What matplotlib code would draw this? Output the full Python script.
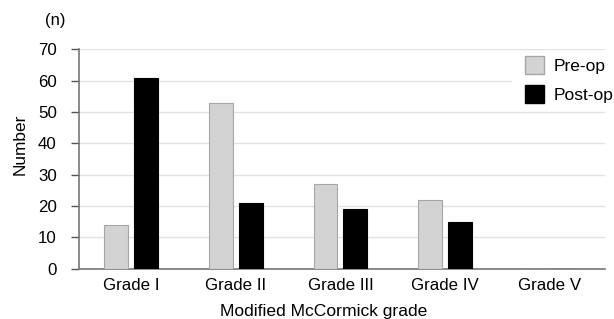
import matplotlib
matplotlib.use("Agg")
import matplotlib.pyplot as plt
import matplotlib.patches as mpatches
import numpy as np

plt.rcParams['font.family'] = ['Liberation Sans', 'DejaVu Sans']

categories = ["Grade I", "Grade II", "Grade III", "Grade IV", "Grade V"]
pre_op = [14, 53, 27, 22, 0]
post_op = [61, 21, 19, 15, 0]
yticks = [0, 10, 20, 30, 40, 50, 60, 70]

W, H = 614, 319
fig = plt.figure(figsize=(W / 100, H / 100), dpi=100)
ax = fig.add_axes([79 / W, 1 - 268.7 / H, (605 - 79) / W, (268.7 - 49.3) / H])

x = np.arange(len(categories))
bw = 0.229
off = 0.143
pre_color = "#d3d3d3"
post_color = "#000000"
ax.bar(x - off, pre_op, bw, color=pre_color, edgecolor="#a6a6a6", linewidth=0.8, zorder=3)
ax.bar(x + off, post_op, bw, color=post_color, edgecolor="#000000", linewidth=0.8, zorder=3)

ax.set_xlim(-0.5, 4.53)
ax.set_ylim(0, 70)
ax.set_yticks(yticks)
ax.set_yticklabels([str(t) for t in yticks], fontsize=12.2)
ax.set_xticks(x)
ax.set_xticklabels(categories, fontsize=12.2)
ax.tick_params(axis='x', length=0, pad=7)
ax.tick_params(axis='y', length=6, width=1, color="#555555", pad=10)
ax.yaxis.grid(True, color="#e3e3e3", linewidth=1, zorder=0)
ax.set_axisbelow(True)
for s in ["top", "right"]:
    ax.spines[s].set_visible(False)
ax.spines["left"].set_color("#777777")
ax.spines["bottom"].set_color("#777777")
ax.spines["left"].set_linewidth(1.2)
ax.spines["bottom"].set_linewidth(1.2)

fig.text(323.5 / W, 1 - 316 / H, "Modified McCormick grade", fontsize=12.6,
         ha="center", va="baseline")
fig.text(20.5 / W, 1 - 144 / H, "Number", fontsize=12.4, rotation=90,
         ha="center", va="center")
fig.text(55 / W, 1 - 21 / H, "(n)", fontsize=12, ha="center", va="center")

# white backing behind legend (hides part of the 60 gridline)
ax.add_patch(mpatches.Rectangle((512 / W, 1 - 100 / H), (W - 512) / W, 38 / H,
                                transform=fig.transFigure, facecolor="white",
                                edgecolor="none", zorder=1, clip_on=False))

handles = [mpatches.Patch(facecolor=pre_color, edgecolor="#a6a6a6", label="Pre-op"),
           mpatches.Patch(facecolor=post_color, edgecolor="#000000", label="Post-op")]
leg = fig.legend(handles=handles, loc="upper left", bbox_to_anchor=(525 / W, 1 - 56 / H),
                 frameon=False, fontsize=12.5, handlelength=1.10, handleheight=1.19,
                 handletextpad=0.55, labelspacing=0.67, borderpad=0, borderaxespad=0)

fig.savefig("out.png", dpi=100)
